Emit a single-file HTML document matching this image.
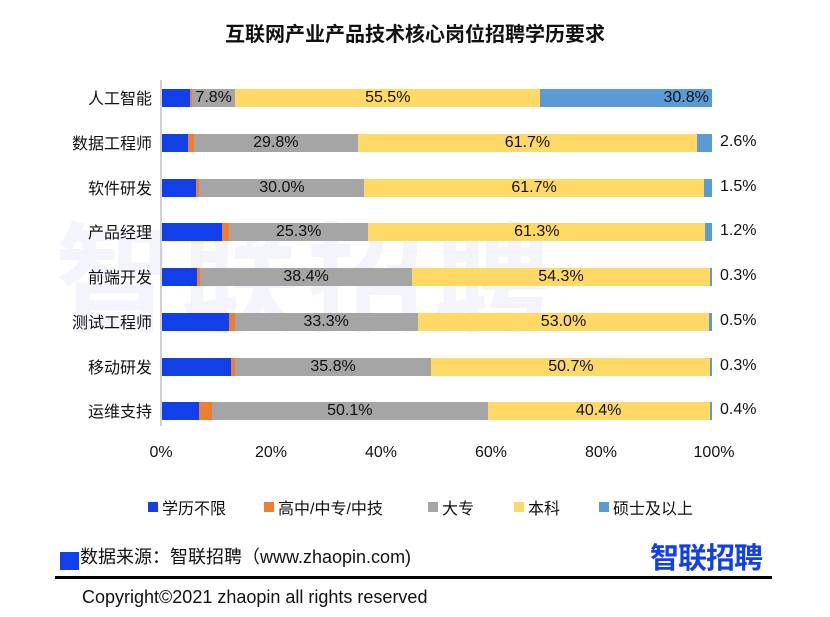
<!DOCTYPE html>
<html><head><meta charset="utf-8"><style>
body{margin:0;width:830px;height:617px;background:#fff;font-family:"Liberation Sans","Noto Sans CJK SC",sans-serif;position:relative;overflow:hidden;color:#111}
.abs{position:absolute}
.title{left:0;width:830px;top:18px;text-align:center;font-size:20px;font-weight:bold;color:#111}
.wm{left:55px;top:185px;font-size:118px;font-weight:bold;color:#f4f5fc;letter-spacing:8px;white-space:nowrap}
.axis{left:160px;top:80px;width:2px;height:346px;background:#d0d0d0}
.lab{left:30px;width:122px;text-align:right;font-size:16px}
.bar{left:162px;width:550px;height:18px;display:flex}
.bar div{height:100%;position:relative}
.v{position:absolute;font-size:16px;line-height:18px;top:0;width:100%;text-align:center;white-space:nowrap}
.r{left:720px;font-size:16px}
.tick{top:444px;font-size:16px;width:60px;text-align:center}
.leg{top:495px;font-size:16px;display:flex;align-items:center}
.sq{width:10px;height:10px;margin-right:4px;display:inline-block}
</style></head><body>
<div class="abs title">互联网产业产品技术核心岗位招聘学历要求</div>
<div class="abs wm">智联招聘</div>
<div class="abs axis"></div>

<div class="abs lab" style="top:85px">人工智能</div>
<div class="abs bar" style="top:89px"><div style="width:5.1%;background:#1240e8"></div><div style="width:0.4%;background:#ed7d31"></div><div style="width:7.8%;background:#a5a5a5"><span class="v">7.8%</span></div><div style="width:55.5%;background:#ffd966"><span class="v">55.5%</span></div><div style="flex:1;background:#5b9bd5"><span class="v" style="left:60px">30.8%</span></div></div>

<div class="abs lab" style="top:130px">数据工程师</div>
<div class="abs bar" style="top:134px"><div style="width:4.7%;background:#1240e8"></div><div style="width:1.1%;background:#ed7d31"></div><div style="width:29.8%;background:#a5a5a5"><span class="v">29.8%</span></div><div style="width:61.7%;background:#ffd966"><span class="v">61.7%</span></div><div style="flex:1;background:#5b9bd5"></div></div>
<div class="abs r" style="top:133px">2.6%</div>

<div class="abs lab" style="top:175px">软件研发</div>
<div class="abs bar" style="top:179px"><div style="width:6.2%;background:#1240e8"></div><div style="width:0.6%;background:#ed7d31"></div><div style="width:30%;background:#a5a5a5"><span class="v">30.0%</span></div><div style="width:61.7%;background:#ffd966"><span class="v">61.7%</span></div><div style="flex:1;background:#5b9bd5"></div></div>
<div class="abs r" style="top:178px">1.5%</div>

<div class="abs lab" style="top:219px">产品经理</div>
<div class="abs bar" style="top:223px"><div style="width:10.9%;background:#1240e8"></div><div style="width:1.3%;background:#ed7d31"></div><div style="width:25.3%;background:#a5a5a5"><span class="v">25.3%</span></div><div style="width:61.3%;background:#ffd966"><span class="v">61.3%</span></div><div style="flex:1;background:#5b9bd5"></div></div>
<div class="abs r" style="top:222px">1.2%</div>

<div class="abs lab" style="top:264px">前端开发</div>
<div class="abs bar" style="top:268px"><div style="width:6.4%;background:#1240e8"></div><div style="width:0.6%;background:#ed7d31"></div><div style="width:38.4%;background:#a5a5a5"><span class="v">38.4%</span></div><div style="width:54.3%;background:#ffd966"><span class="v">54.3%</span></div><div style="flex:1;background:#5b9bd5"></div></div>
<div class="abs r" style="top:267px">0.3%</div>

<div class="abs lab" style="top:309px">测试工程师</div>
<div class="abs bar" style="top:313px"><div style="width:12.2%;background:#1240e8"></div><div style="width:1%;background:#ed7d31"></div><div style="width:33.3%;background:#a5a5a5"><span class="v">33.3%</span></div><div style="width:53%;background:#ffd966"><span class="v">53.0%</span></div><div style="flex:1;background:#5b9bd5"></div></div>
<div class="abs r" style="top:312px">0.5%</div>

<div class="abs lab" style="top:354px">移动研发</div>
<div class="abs bar" style="top:358px"><div style="width:12.5%;background:#1240e8"></div><div style="width:0.7%;background:#ed7d31"></div><div style="width:35.8%;background:#a5a5a5"><span class="v">35.8%</span></div><div style="width:50.7%;background:#ffd966"><span class="v">50.7%</span></div><div style="flex:1;background:#5b9bd5"></div></div>
<div class="abs r" style="top:357px">0.3%</div>

<div class="abs lab" style="top:398px">运维支持</div>
<div class="abs bar" style="top:402px"><div style="width:6.8%;background:#1240e8"></div><div style="width:2.3%;background:#ed7d31"></div><div style="width:50.1%;background:#a5a5a5"><span class="v">50.1%</span></div><div style="width:40.4%;background:#ffd966"><span class="v">40.4%</span></div><div style="flex:1;background:#5b9bd5"></div></div>
<div class="abs r" style="top:401px">0.4%</div>

<div class="abs tick" style="left:131px">0%</div>
<div class="abs tick" style="left:241px">20%</div>
<div class="abs tick" style="left:351px">40%</div>
<div class="abs tick" style="left:461px">60%</div>
<div class="abs tick" style="left:571px">80%</div>
<div class="abs tick" style="left:684px">100%</div>

<div class="abs leg" style="left:148px"><span class="sq" style="background:#1240e8"></span>学历不限</div>
<div class="abs leg" style="left:264px"><span class="sq" style="background:#ed7d31"></span>高中/中专/中技</div>
<div class="abs leg" style="left:428px"><span class="sq" style="background:#a5a5a5"></span>大专</div>
<div class="abs leg" style="left:514px"><span class="sq" style="background:#ffd966"></span>本科</div>
<div class="abs leg" style="left:599px"><span class="sq" style="background:#5b9bd5"></span>硕士及以上</div>

<div class="abs" style="left:60px;top:552px;width:19px;height:18px;background:#1240e8"></div>
<div class="abs" style="left:80px;top:543px;font-size:18px">数据来源：智联招聘（www.zhaopin.com)</div>
<div class="abs" style="left:650px;top:535px;font-size:29px;font-weight:bold;color:#1240e8;letter-spacing:-1px">智联招聘</div>
<div class="abs" style="left:55px;top:576px;width:717px;height:3px;background:#000"></div>
<div class="abs" style="left:82px;top:587px;font-size:18px">Copyright©2021 zhaopin all rights reserved</div>
</body></html>
